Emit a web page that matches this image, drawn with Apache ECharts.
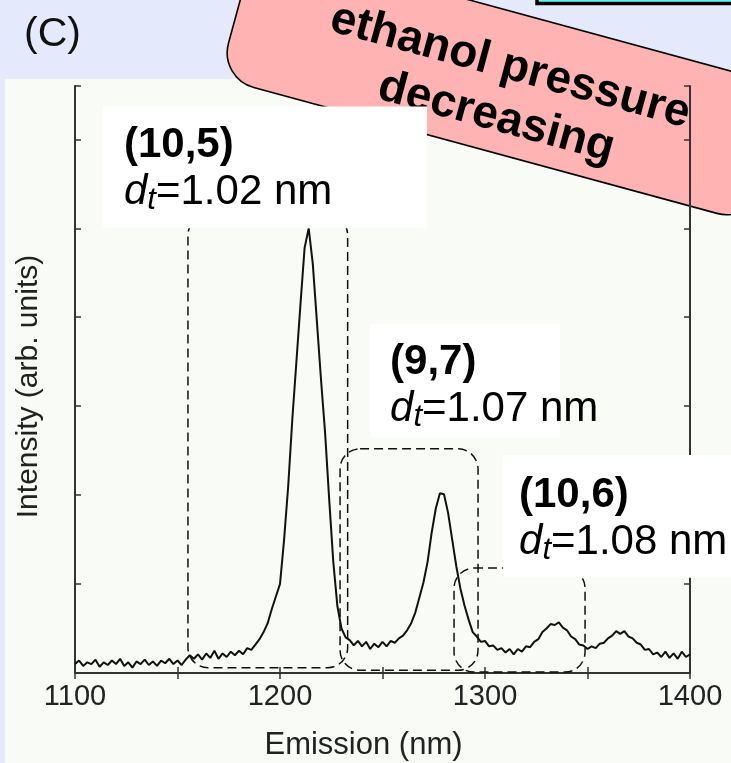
<!DOCTYPE html>
<html>
<head>
<meta charset="utf-8">
<title>Emission spectrum</title>
<script src="https://cdn.jsdelivr.net/npm/echarts@6/dist/echarts.min.js"></script>
<style>
  body { margin: 0; background: #e4eafb; }
  #panel { position: absolute; left: 5px; top: 79px; width: 726px; height: 684px; background: #f9fbf7; }
  #main { position: absolute; left: 0; top: 0; width: 731px; height: 763px; }
</style>
</head>
<body>
<div id="panel"></div>
<div id="main"></div>
<script type="text/javascript">
// emission wavelength (nm) and PL intensity (arb. units)
var wavelength = [
  1100, 1102, 1104, 1106, 1108, 1110, 1112, 1114, 1116, 1118,
  1120, 1122, 1124, 1126, 1128, 1130, 1132, 1134, 1136, 1138,
  1140, 1142, 1144, 1146, 1148, 1150, 1152, 1154, 1156, 1158,
  1160, 1162, 1164, 1166, 1168, 1170, 1172, 1174, 1176, 1178,
  1180, 1182, 1184, 1186, 1188, 1190, 1192, 1194, 1196, 1198,
  1200, 1202, 1204, 1206, 1208, 1210, 1212, 1214, 1216, 1218,
  1220, 1222, 1224, 1226, 1228, 1230, 1232, 1234, 1236, 1238,
  1240, 1242, 1244, 1246, 1248, 1250, 1252, 1254, 1256, 1258,
  1260, 1262, 1264, 1266, 1268, 1270, 1272, 1274, 1276, 1278,
  1280, 1282, 1284, 1286, 1288, 1290, 1292, 1294, 1296, 1298,
  1300, 1302, 1304, 1306, 1308, 1310, 1312, 1314, 1316, 1318,
  1320, 1322, 1324, 1326, 1328, 1330, 1332, 1334, 1336, 1338,
  1340, 1342, 1344, 1346, 1348, 1350, 1352, 1354, 1356, 1358,
  1360, 1362, 1364, 1366, 1368, 1370, 1372, 1374, 1376, 1378,
  1380, 1382, 1384, 1386, 1388, 1390, 1392, 1394, 1396, 1398,
  1400
];
var intensity = [
  0.10, 0.14, 0.08, 0.12, 0.10, 0.15, 0.07, 0.12, 0.09, 0.14,
  0.10, 0.16, 0.08, 0.12, 0.06, 0.13, 0.10, 0.15, 0.09, 0.13,
  0.08, 0.14, 0.11, 0.16, 0.10, 0.14, 0.09, 0.15, 0.20, 0.16,
  0.21, 0.15, 0.22, 0.17, 0.25, 0.16, 0.22, 0.18, 0.24, 0.20,
  0.25, 0.21, 0.28, 0.26, 0.32, 0.38, 0.46, 0.56, 0.72, 0.86,
  1.00, 1.50, 2.10, 2.85, 3.50, 4.15, 4.78, 5.00, 4.60, 3.95,
  3.30, 2.70, 1.95, 1.25, 0.75, 0.50, 0.40, 0.37, 0.31, 0.36,
  0.30, 0.35, 0.27, 0.33, 0.29, 0.35, 0.30, 0.36, 0.34, 0.39,
  0.42, 0.48, 0.56, 0.68, 0.85, 1.02, 1.25, 1.58, 1.85, 2.02,
  2.01, 1.80, 1.50, 1.20, 0.95, 0.76, 0.60, 0.46, 0.41, 0.35,
  0.36, 0.30, 0.31, 0.26, 0.28, 0.23, 0.27, 0.21, 0.27, 0.24,
  0.30, 0.29, 0.35, 0.38, 0.46, 0.50, 0.55, 0.54, 0.57, 0.51,
  0.48, 0.41, 0.38, 0.32, 0.31, 0.27, 0.30, 0.28, 0.33, 0.34,
  0.39, 0.42, 0.47, 0.44, 0.47, 0.41, 0.39, 0.34, 0.32, 0.26,
  0.27, 0.21, 0.23, 0.18, 0.24, 0.17, 0.22, 0.16, 0.24, 0.18,
  0.21
];

// chirality annotations: name, diameter
var tubeNames = ['(10,5)', '(9,7)', '(10,6)'];
var tubeDiameters = ['1.02 nm', '1.07 nm', '1.08 nm'];
// where each label sits, in axis units [nm, intensity]
var labelAnchors = [[1123.9, 6.17], [1253.7, 3.73], [1316.6, 2.24]];
// white boxes behind labels [nm0, y0, nm1, y1]
var labelBoxes = [[1113.7, 6.37, 1271.7, 5.0], [1243.9, 3.93, 1336.6, 2.65], [1308.8, 2.45, 1424, 1.07]];
// dashed regions around each peak [nm0, y0, nm1, y1]
var peakRegions = [[1155.1, 5.15, 1233.0, 0.06], [1229.3, 2.52, 1296.6, 0.03], [1284.9, 1.18, 1348.8, 0.01]];

var FONT = '"Liberation Sans", Arial, Helvetica, sans-serif';

var myChart = echarts.init(document.getElementById('main'), null, { renderer: 'canvas' });

var points = [];
for (var i = 0; i < wavelength.length; i++) {
  points.push([wavelength[i], intensity[i]]);
}

var xCommon = {
  type: 'value', min: 1100, max: 1400, interval: 50,
  axisLine: { show: true, lineStyle: { color: '#333', width: 2 } },
  axisTick: { show: true, inside: true, length: 6, lineStyle: { color: '#333', width: 1.5 } },
  splitLine: { show: false }
};
var yCommon = {
  type: 'value', min: 0, max: 6.6, interval: 1,
  axisLine: { show: true, onZero: false, lineStyle: { color: '#333', width: 2 } },
  axisTick: { show: true, inside: true, length: 6, lineStyle: { color: '#333', width: 1.5 } },
  axisLabel: { show: false },
  splitLine: { show: false }
};

var option = {
  animation: false,
  grid: { left: 75, right: 41, top: 86, bottom: 90, containLabel: false, outerBoundsMode: 'none' },
  xAxis: [
    Object.assign({}, xCommon, {
      position: 'bottom',
      axisLabel: {
        show: true, margin: 9, fontSize: 29, color: '#222', fontFamily: FONT,
        formatter: function (v) { return v % 100 === 0 ? String(v) : ''; }
      },
      name: 'Emission (nm)', nameLocation: 'middle', nameGap: 57,
      nameTextStyle: { fontSize: 31, color: '#222', fontFamily: FONT, padding: [0, 38, 0, 0] }
    }),
    Object.assign({}, xCommon, { position: 'top', axisLabel: { show: false } })
  ],
  yAxis: [
    Object.assign({}, yCommon, {
      position: 'left',
      name: 'Intensity (arb. units)', nameLocation: 'middle', nameGap: 31,
      nameTextStyle: { fontSize: 30, color: '#222', fontFamily: FONT, padding: [0, 14, 0, 0] }
    }),
    Object.assign({}, yCommon, { position: 'right' })
  ],
  series: [{
    name: 'PL', type: 'line', data: points,
    showSymbol: false, symbol: 'none', smooth: false,
    lineStyle: { color: '#111', width: 2 },
    z: 3
  }]
};

myChart.setOption(option);

function px(p) {
  return myChart.convertToPixel({ xAxisIndex: 0, yAxisIndex: 0 }, p);
}

var graphics = [];

// dashed peak regions
peakRegions.forEach(function (b) {
  var a = px([b[0], b[1]]), c = px([b[2], b[3]]);
  graphics.push({
    type: 'rect', z: 5,
    shape: { x: a[0], y: a[1], width: c[0] - a[0], height: c[1] - a[1], r: 20 },
    style: { fill: null, stroke: '#111', lineWidth: 1.5, lineDash: [9, 5] }
  });
});

// white label boxes and labels
labelBoxes.forEach(function (b) {
  var a = px([b[0], b[1]]), c = px([b[2], b[3]]);
  graphics.push({
    type: 'rect', z: 10,
    shape: { x: a[0], y: a[1], width: c[0] - a[0], height: c[1] - a[1] },
    style: { fill: '#ffffff' }
  });
});

var rich = {
  b: { fontFamily: FONT, fontSize: 42, fontWeight: 'bold', lineHeight: 47, fill: '#000' },
  i: { fontFamily: FONT, fontSize: 42, fontStyle: 'italic', lineHeight: 47, fill: '#000' },
  s: { fontFamily: FONT, fontSize: 31, fontStyle: 'italic', lineHeight: 14, verticalAlign: 'bottom', fill: '#000' },
  r: { fontFamily: FONT, fontSize: 42, lineHeight: 47, fill: '#000' }
};
labelAnchors.forEach(function (p, k) {
  var q = px(p);
  graphics.push({
    type: 'text', z: 12, x: q[0], y: q[1] - 2,
    style: {
      text: '{b|' + tubeNames[k] + '}\n{i|d}{s|t}{r|=' + tubeDiameters[k] + '}',
      rich: rich, align: 'left', verticalAlign: 'top'
    }
  });
});

// panel letter
graphics.push({
  type: 'text', z: 12, x: 24, y: 14,
  style: { text: '(C)', font: '41px ' + FONT, fill: '#111', align: 'left', verticalAlign: 'top' }
});

// pink tilted callout
graphics.push({
  type: 'group', x: 256, y: -58, rotation: -15.2 * Math.PI / 180, z: 50,
  children: [
    { type: 'rect', shape: { x: 0, y: 0, width: 552, height: 141, r: 36 },
      style: { fill: '#ffb3b3', stroke: '#000', lineWidth: 1.6 } },
    { type: 'text', x: 278, y: 80,
      style: { text: 'ethanol pressure\ndecreasing', font: 'bold 46px ' + FONT, fill: '#000',
               align: 'center', verticalAlign: 'middle', lineHeight: 53 } }
  ]
});

// cyan box peeking at top right
graphics.push({
  type: 'rect', z: 51,
  shape: { x: 537, y: -30, width: 230, height: 33.5 },
  style: { fill: '#5ef6f6', stroke: '#000', lineWidth: 3.5 }
});

myChart.setOption({ graphic: graphics });
</script>
</body>
</html>
